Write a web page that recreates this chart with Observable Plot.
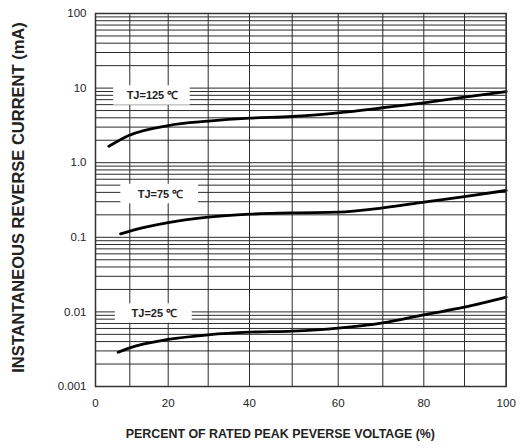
<!DOCTYPE html>
<html>
<head>
<meta charset="utf-8">
<script src="https://cdn.jsdelivr.net/npm/d3@7"></script>
<script src="https://cdn.jsdelivr.net/npm/@observablehq/plot@0.6"></script>
<style>
  html, body { margin: 0; padding: 0; background: #fff; }
</style>
</head>
<body>
<div id="chart"></div>
<script>
// ---- data ----
const xTicks = [0, 20, 40, 60, 80, 100];
const xGrid = [0, 10, 20, 30, 40, 50, 60, 70, 80, 90, 100];
const yTicks = [0.001, 0.01, 0.1, 1, 10, 100];
const yTickLabels = ["0.001", "0.01", "0.1", "1.0", "10", "100"];

const pct125 = [3.9, 9.7, 20, 30, 40, 50, 60, 70, 80, 90, 100];
const cur125 = [1.66, 2.32, 3.15, 3.6, 3.95, 4.16, 4.67, 5.45, 6.35, 7.55, 9.0];

const pct75 = [7.3, 10, 20, 30, 40, 50, 60, 70, 80, 90, 100];
const cur75 = [0.111, 0.121, 0.157, 0.186, 0.204, 0.213, 0.217, 0.248, 0.296, 0.352, 0.424];

const pct25 = [6.6, 10, 20, 30, 40, 50, 60, 70, 80, 90, 100];
const cur25 = [0.00288, 0.0033, 0.00427, 0.00493, 0.00535, 0.00551, 0.00605, 0.00714, 0.00914, 0.01156, 0.01574];

const labelTemps = ["125", "75", "25"];
const labelPct = [15.9, 18.0, 16.4];
const labelCur = [7.96, 0.38, 0.00952];

const yTitle = "INSTANTANEOUS REVERSE CURRENT (mA)";
const xTitle = "PERCENT OF RATED PEAK PEVERSE VOLTAGE (%)";

// ---- derived tables ----
const series = [
  ...pct125.map((x, i) => ({x, y: cur125[i], s: "125"})),
  ...pct75.map((x, i) => ({x, y: cur75[i], s: "75"})),
  ...pct25.map((x, i) => ({x, y: cur25[i], s: "25"}))
];
const yGrid = [];
for (let e = -3; e <= 1; e++) for (let k = 1; k <= 9; k++) yGrid.push(+(k * Math.pow(10, e)).toPrecision(6));
yGrid.push(100);
const labels = labelTemps.map((t, i) => ({t, x: labelPct[i], y: labelCur[i]}));
const fmtY = d => yTickLabels[yTicks.findIndex(v => Math.abs(v - d) / d < 1e-6)];

const W = 527, H = 448;
const mL = 95, mR = 21.3, mT = 13, mB = 62;

const svg = Plot.plot({
  width: W,
  height: H,
  marginLeft: mL,
  marginRight: mR,
  marginTop: mT,
  marginBottom: mB,
  style: {fontFamily: "'Liberation Sans', Arial, sans-serif", fontSize: "11.5px", color: "#222", background: "#fff"},
  x: {
    type: "linear",
    domain: xGrid,
    range: [95, 129.3, 167.7, 207.7, 249, 291.7, 337.7, 382.3, 423.3, 464, 505.7],
    ticks: xTicks,
    tickSize: 0,
    tickPadding: 12,
    tickFormat: d => String(d),
    label: null
  },
  y: {
    type: "log",
    domain: [0.001, 100],
    ticks: yTicks,
    tickSize: 0,
    tickPadding: 9,
    tickFormat: fmtY,
    label: null
  },
  marks: [
    Plot.ruleY(yGrid, {stroke: "#2b2b2b", strokeWidth: 1}),
    Plot.ruleX(xGrid, {stroke: "#2b2b2b", strokeWidth: 1}),
    Plot.rect(labels, {
      x1: d => d.x - 10.6, x2: d => d.x + 9.6,
      y1: d => d.y * Math.pow(10, -0.13), y2: d => d.y * Math.pow(10, 0.13),
      fill: "white"
    }),
    Plot.line(series, {x: "x", y: "y", z: "s", stroke: "#000", strokeWidth: 2.8, curve: "monotone-x"}),
    Plot.text(labels, {x: "x", y: "y", text: d => "TJ=" + d.t + " ℃", fontSize: 11, fontWeight: "bold", fill: "#222", ariaLabel: "temp-labels"}),
    Plot.frame({stroke: "#333", strokeWidth: 1.5}),
    Plot.text([yTitle], {frameAnchor: "left", textAnchor: "middle", dx: -77, dy: -2.5, rotate: -90, fontSize: 16.5, fontWeight: "bold", fill: "#222"}),
    Plot.text([xTitle], {frameAnchor: "bottom", textAnchor: "middle", dx: -20.5, dy: 51, fontSize: 12.4, fontWeight: "bold", fill: "#222"})
  ]
});

// subscript J and spacing for the temperature labels
svg.querySelectorAll('g[aria-label="temp-labels"] text').forEach((t, i) => {
  const temp = labels[i].t;
  while (t.firstChild) t.removeChild(t.firstChild);
  const ns = "http://www.w3.org/2000/svg";
  const a = document.createElementNS(ns, "tspan"); a.textContent = "T"; t.appendChild(a);
  const b = document.createElementNS(ns, "tspan"); b.textContent = "J"; b.setAttribute("font-size", "7.5"); b.setAttribute("dy", "2"); t.appendChild(b);
  const c = document.createElementNS(ns, "tspan"); c.textContent = "=" + temp; c.setAttribute("dy", "-2"); t.appendChild(c);
  const d = document.createElementNS(ns, "tspan"); d.textContent = "℃"; d.setAttribute("dx", "6"); d.setAttribute("font-weight", "normal"); d.setAttribute("font-size", "13"); t.appendChild(d);
});

document.getElementById("chart").appendChild(svg);
</script>
</body>
</html>
